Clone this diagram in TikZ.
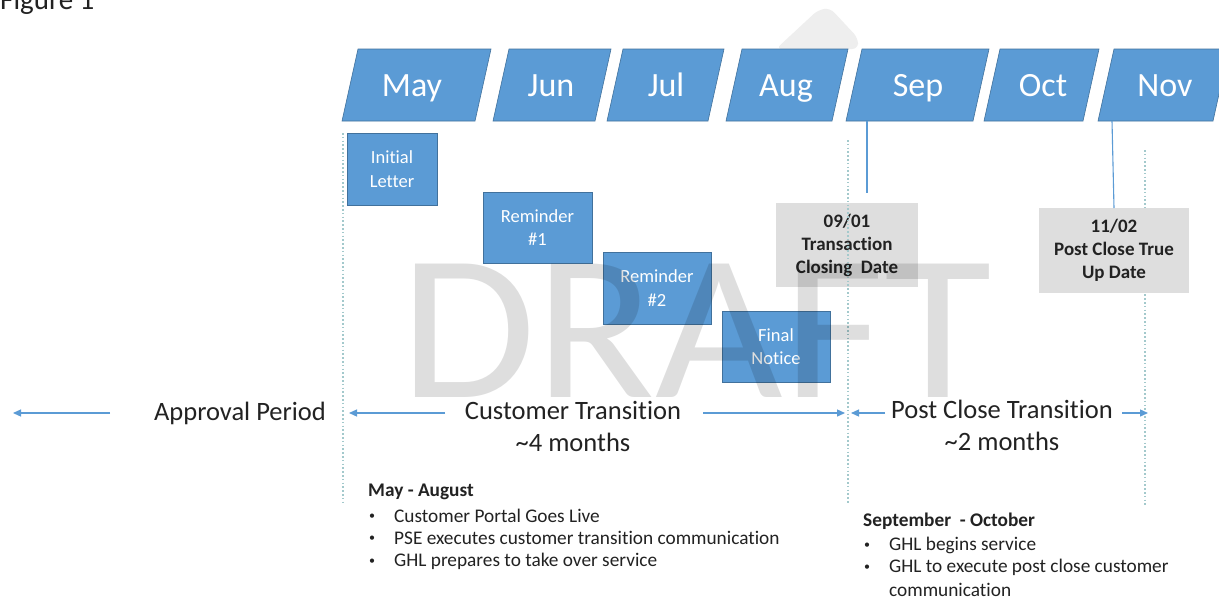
\documentclass[tikz,border=0pt]{standalone}
\usepackage{fontspec}
\setmainfont{Carlito}[Ligatures={NoCommon}]
\usetikzlibrary{arrows.meta}
\definecolor{mblue}{HTML}{5B9BD5}
\definecolor{mborder}{HTML}{41719C}
\definecolor{dotc}{HTML}{A3C9CC}
\definecolor{gbox}{HTML}{DEDEDE}
\definecolor{txt}{HTML}{222222}
\tikzset{
  monthshape/.style={fill=mblue, draw=mborder, line width=0.6},
  monthtext/.style={text=white, font=\fontsize{34}{40}\selectfont, inner sep=0, anchor=base},
  bluebox/.style={fill=mblue, draw=mborder, line width=0.9, text=white, align=center,
    font=\fontsize{18.5}{23.5}\selectfont, inner sep=0},
  graybox/.style={fill=gbox, text=txt, align=center,
    font=\fontsize{19}{23}\selectfont\bfseries, inner sep=0},
  dotline/.style={draw=dotc, line width=1.8, dash pattern=on 1.6 off 2.2},
  tickline/.style={draw=mblue, line width=1.1},
  periodarrow/.style={draw=mblue, line width=1.3, -{Triangle[length=8,width=7]}},
  periodtext/.style={text=txt, font=\fontsize{26.5}{30}\selectfont, inner sep=0},
  listhead/.style={text=txt, font=\fontsize{19.3}{22}\selectfont\bfseries, anchor=west, inner sep=0},
  listitem/.style={text=txt, font=\fontsize{19.3}{22}\selectfont, anchor=west, inner sep=0},
  listbullet/.style={text=txt, font=\fontsize{12}{14}\selectfont, anchor=west, inner sep=0},
}
\begin{document}
\begin{tikzpicture}[x=1pt,y=-1pt]
\useasboundingbox (0,0) rectangle (1219,598);
\fill[white] (0,0) rectangle (1219,598);

% caption (cut at the top)
\node[anchor=base west, inner sep=0, text=txt, font=\fontsize{29}{30}\selectfont] (fig) at (0,9) {Figure 1};

% watermark fragment at top
\fill[gray!13, rounded corners=6] (776,49) -- (818,10) -- (830,8) -- (858,38) -- (858,49) -- cycle;

% month parallelograms
\foreach \l/\r/\t/\m/\n in {342/475/412/May/may, 493/595/551/Jun/jun, 607/708/666/Jul/jul,
  726/832/786/Aug/aug, 846/973/918/Sep/sep, 984/1083/1043/Oct/oct, 1098/1213/1165/Nov/nov}{
  \path[monthshape] (\l,121) -- (\r,121) -- (\r+16,49) -- (\l+16,49) -- cycle;
  \node[monthtext] (\n) at (\t,96) {\m};
}

% dotted period boundary at May
\draw[dotline] (343,133) -- (343,503);

% blue letter boxes
\node[bluebox, minimum width=90, minimum height=72] (initial) at (392,169) {Initial\\Letter};
\node[bluebox, minimum width=109, minimum height=71] (rem1) at (537.5,227.5) {Reminder\\\#1};
\node[bluebox, minimum width=108, minimum height=72] (rem2) at (657,288) {Reminder\\\#2};
\node[bluebox, minimum width=108, minimum height=71] (final) at (776,346.5) {Final\\Notice};

% date boxes
\node[graybox, minimum width=142, minimum height=84] (close) at (847,245) {09/01\\Transaction\\Closing~ Date};
\draw[dotline] (848,140) -- (848,503);
\draw[dotline] (1145,150) -- (1145,505);
\node[graybox, minimum width=150, minimum height=85] (trueup) at (1114,250.5) {11/02\\Post Close True\\Up Date};

% tick lines from months to date boxes
\coordinate (septick) at (867,121);
\coordinate (septickend) at (867,193);
\coordinate (novtick) at (1112,121);
\coordinate (novtickend) at (1114,208);
\draw[tickline] (septick) -- (septickend);
\draw[tickline] (novtick) -- (novtickend);

% period labels and arrows
\node[periodtext] (approval) at (240,413) {Approval Period};
\node[periodtext] (custtr) at (573,410) {Customer Transition};
\node[periodtext] (cust4) at (573,442) {\textasciitilde 4 months};
\node[periodtext] (posttr) at (1002,409) {Post Close Transition};
\node[periodtext] (post2) at (1002,441) {\textasciitilde 2 months};

\coordinate (a0s) at (110,413); \coordinate (a0e) at (13,413);
\coordinate (a1s) at (445,413); \coordinate (a1e) at (349,413);
\coordinate (a2s) at (703,413); \coordinate (a2e) at (845,413);
\coordinate (a3s) at (885,413); \coordinate (a3e) at (851,413);
\coordinate (a4s) at (1122,413); \coordinate (a4e) at (1148,413);
\draw[periodarrow] (a0s) -- (a0e);
\draw[periodarrow] (a1s) -- (a1e);
\draw[periodarrow] (a2s) -- (a2e);
\draw[periodarrow] (a3s) -- (a3e);
\draw[periodarrow] (a4s) -- (a4e);

% lists
\node[listhead] (h1) at (368,492) {May - August};
\node[listbullet] (b11) at (369,517) {•}; \node[listitem] (t11) at (394,516) {Customer Portal Goes Live};
\node[listbullet] (b12) at (369,539) {•}; \node[listitem] (t12) at (394,538) {PSE executes customer transition communication};
\node[listbullet] (b13) at (369,562) {•}; \node[listitem] (t13) at (394,561) {GHL prepares to take over service};

\node[listhead] (h2) at (863,521) {September~ - October};
\node[listbullet] (b21) at (864,546) {•}; \node[listitem] (t21) at (889,545) {GHL begins service};
\node[listbullet] (b22) at (864,568) {•}; \node[listitem] (t22) at (889,567) {GHL to execute post close customer};
\node[listitem] (t23) at (889,590) {communication};

% DRAFT watermark (semi-transparent, on top)
\node[anchor=base west, inner sep=0, text=black, text opacity=0.13,
  font=\fontsize{208}{208}\selectfont] (draft) at (400,397) {\scalebox{1.06}[1]{DRAFT}};
\end{tikzpicture}
\end{document}
